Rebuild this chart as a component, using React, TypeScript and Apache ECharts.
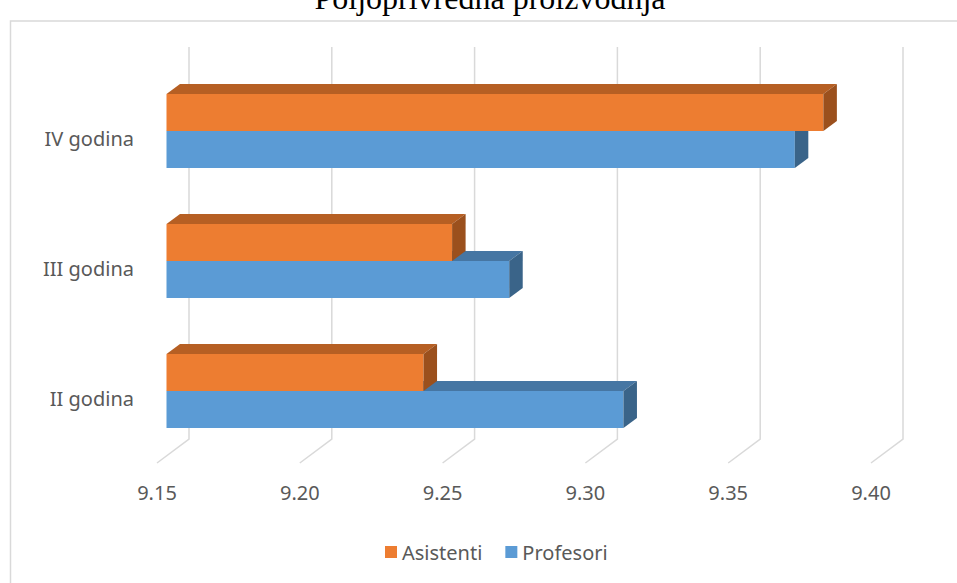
import React, { useEffect, useRef } from "react";
import * as echarts from "echarts";

const categories = ["II godina", "III godina", "IV godina"];
const asistenti = [9.24, 9.25, 9.38];
const profesori = [9.31, 9.27, 9.37];
const xTicks = [9.15, 9.2, 9.25, 9.3, 9.35, 9.4];
const titleText = "Poljoprivredna proizvodnja";

const AXIS_MIN = 9.15;
const AXIS_MAX = 9.4;
const TEXT_COLOR = "#595959";
const FONT = "'Noto Sans', 'Open Sans', sans-serif";

const ORANGE = { front: "#ED7D31", top: "#B65F23", side: "#9B501D" };
const BLUE = { front: "#5B9BD5", top: "#4676A3", side: "#3A6489" };

function barRenderer(position: "upper" | "lower", colors: { front: string; top: string; side: string }) {
  return (params: any, api: any) => {
    const val = api.value(0);
    const cat = api.value(1);
    const start = api.coord([AXIS_MIN, cat]);
    const end = api.coord([val, cat]);
    const band = api.size([0, 1])[1];
    const h = band * 0.285;
    const fx = 9.5, fy = -7, dx = 13.5, dy = -10;
    const x0 = start[0] + fx;
    const x1 = end[0] + fx;
    const yc = start[1] + fy;
    const y0 = position === "upper" ? yc - h : yc;
    const y1 = y0 + h;
    return {
      type: "group",
      children: [
        {
          type: "rect",
          shape: { x: x0, y: y0, width: x1 - x0, height: h },
          style: { fill: colors.front },
        },
        {
          type: "polygon",
          shape: { points: [[x0, y0], [x1, y0], [x1 + dx, y0 + dy], [x0 + dx, y0 + dy]] },
          style: { fill: colors.top },
        },
        {
          type: "polygon",
          shape: { points: [[x1, y0], [x1 + dx, y0 + dy], [x1 + dx, y1 + dy], [x1, y1]] },
          style: { fill: colors.side },
        },
      ],
    };
  };
}

function gridRenderer(params: any, api: any) {
  const v = api.value(0);
  const p = api.coord([v, 0]);
  const cs = params.coordSys;
  const bottom = cs.y + cs.height;
  const xf = p[0];
  const xb = xf + 32;
  return {
    type: "polyline",
    shape: { points: [[xb, cs.y - 26], [xb, bottom - 24], [xf, bottom]] },
    style: { stroke: "#D9D9D9", lineWidth: 1.5, fill: "none" },
  };
}

export default function App() {
  const ref = useRef<HTMLDivElement>(null);
  useEffect(() => {
    if (!ref.current) return;
    const chart = echarts.init(ref.current, null, { renderer: "svg" });
    chart.setOption({
      animation: false,
      backgroundColor: "#ffffff",
      grid: { left: 157, right: 86, top: 73, bottom: 120, containLabel: false },
      graphic: [
        {
          type: "rect",
          shape: { x: 10.5, y: 21, width: 1000, height: 700 },
          style: { fill: "none", stroke: "#D9D9D9", lineWidth: 1.5 },
          silent: true,
        },
        {
          type: "text",
          x: 490,
          y: -2,
          style: {
            text: titleText,
            font: "32px 'Liberation Serif', 'Times New Roman', serif",
            fill: "#000000",
            align: "center",
            verticalAlign: "middle",
          },
          silent: true,
        },
      ],
      legend: {
        data: ["Asistenti", "Profesori"],
        left: 380,
        top: 537,
        icon: "rect",
        itemWidth: 12,
        itemHeight: 12,
        itemGap: 23,
        textStyle: { color: TEXT_COLOR, fontSize: 20, fontFamily: FONT },
      },
      xAxis: {
        type: "value",
        min: AXIS_MIN,
        max: AXIS_MAX,
        interval: 0.05,
        axisLine: { show: false },
        axisTick: { show: false },
        splitLine: { show: false },
        axisLabel: {
          margin: 19,
          color: TEXT_COLOR,
          fontSize: 20,
          fontFamily: FONT,
          formatter: (v: number) => v.toFixed(2),
        },
      },
      yAxis: {
        type: "category",
        data: categories,
        axisLine: { show: false },
        axisTick: { show: false },
        splitLine: { show: false },
        axisLabel: { margin: 23, color: TEXT_COLOR, fontSize: 20, fontFamily: FONT },
      },
      series: [
        {
          type: "custom",
          name: "gridlines",
          renderItem: gridRenderer,
          data: xTicks.map((v) => [v, 0]),
          encode: { x: 0, y: 1 },
          silent: true,
          z: 1,
        },
        {
          type: "custom",
          name: "Profesori",
          renderItem: barRenderer("lower", BLUE),
          data: profesori.map((v, i) => [v, i]),
          encode: { x: 0, y: 1 },
          itemStyle: { color: BLUE.front },
          z: 2,
        },
        {
          type: "custom",
          name: "Asistenti",
          renderItem: barRenderer("upper", ORANGE),
          data: asistenti.map((v, i) => [v, i]),
          encode: { x: 0, y: 1 },
          itemStyle: { color: ORANGE.front },
          z: 3,
        },
      ],
    });
    return () => chart.dispose();
  }, []);
  return (
    <div
      ref={ref}
      style={{ position: "fixed", left: 0, top: 0, width: 957, height: 583, background: "#fff" }}
    />
  );
}
